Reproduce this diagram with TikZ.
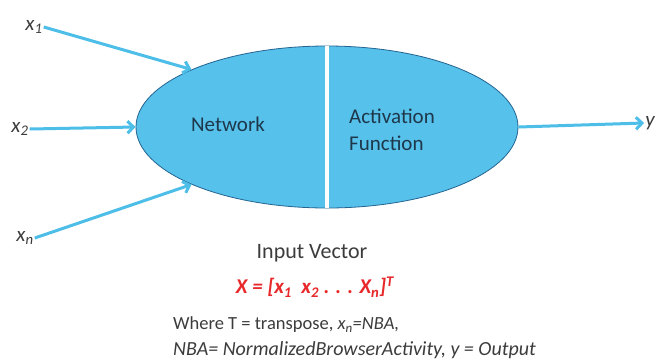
\documentclass[tikz,border=0pt]{standalone}
\usepackage{fontspec}
\setmainfont{Carlito}
\usetikzlibrary{arrows.meta,shapes.geometric}
\definecolor{wirec}{RGB}{77,190,232}
\definecolor{netfill}{RGB}{86,193,235}
\definecolor{netline}{RGB}{35,100,145}
\definecolor{labelc}{RGB}{60,60,60}
\definecolor{netText}{RGB}{30,55,75}
\definecolor{vecred}{RGB}{232,40,43}
\begin{document}
\begin{tikzpicture}
      [x=1pt,y=-1pt,
       wire/.style={draw=wirec,line width=3pt,-{Straight Barb[length=6pt,width=12pt]}},
       inlbl/.style={text=labelc,inner sep=1pt,font=\fontsize{21}{24}\selectfont\itshape},
       txt/.style={text=netText,inner sep=0pt,font=\fontsize{21}{27}\selectfont},
       note/.style={text=labelc,inner sep=0pt,anchor=west,font=\fontsize{19}{23}\selectfont}]
      \useasboundingbox[fill=white] (0,0) rectangle (656,360);
      % the two halves of the neuron
      \node[ellipse,fill=netfill,draw=netline,line width=0.8pt,
            minimum width=382pt,minimum height=162pt,inner sep=0pt] (net) at (327,127) {};
      \draw[white,line width=4pt] (net.north) -- (net.south);
      \node[txt] (netlbl) at (228,124) {Network};
      \node[txt,align=left,anchor=west] (actlbl) at (349,130) {Activation\\Function};
      % inputs and output
      \node[inlbl] (x1) at (34,27) {x\textsubscript{1}};
      \node[inlbl] (x2) at (20,129) {x\textsubscript{2}};
      \node[inlbl] (xn) at (25,238) {x\textsubscript{n}};
      \node[inlbl] (y) at (650,123) {y};
      \draw[wire] (x1.east) -- (net.157);
      \draw[wire] (x2.east) -- (net.west);
      \draw[wire] (xn.east) -- (net.203);
      \draw[wire] (net.east) -- (y.west);
      % vector and legend
      \node[txt,text=labelc,font=\fontsize{22}{27}\selectfont] (invec) at (312,253) {Input Vector};
      \node[txt,text=vecred,font=\fontsize{21}{25}\selectfont\bfseries\itshape] (vec) at (315,287)
        {X = [x\textsubscript{1}~~x\textsubscript{2} . . . X\textsubscript{n}]\textsuperscript{T}};
      \node[note,font=\fontsize{18.5}{22}\selectfont] (where) at (173,325) {Where T = transpose, \textit{x\textsubscript{n}=NBA,}};
      \node[note,font=\fontsize{20}{24}\selectfont] (nba) at (173,350) {\textit{NBA= NormalizedBrowserActivity, y = Output}};
    \end{tikzpicture}
\end{document}
